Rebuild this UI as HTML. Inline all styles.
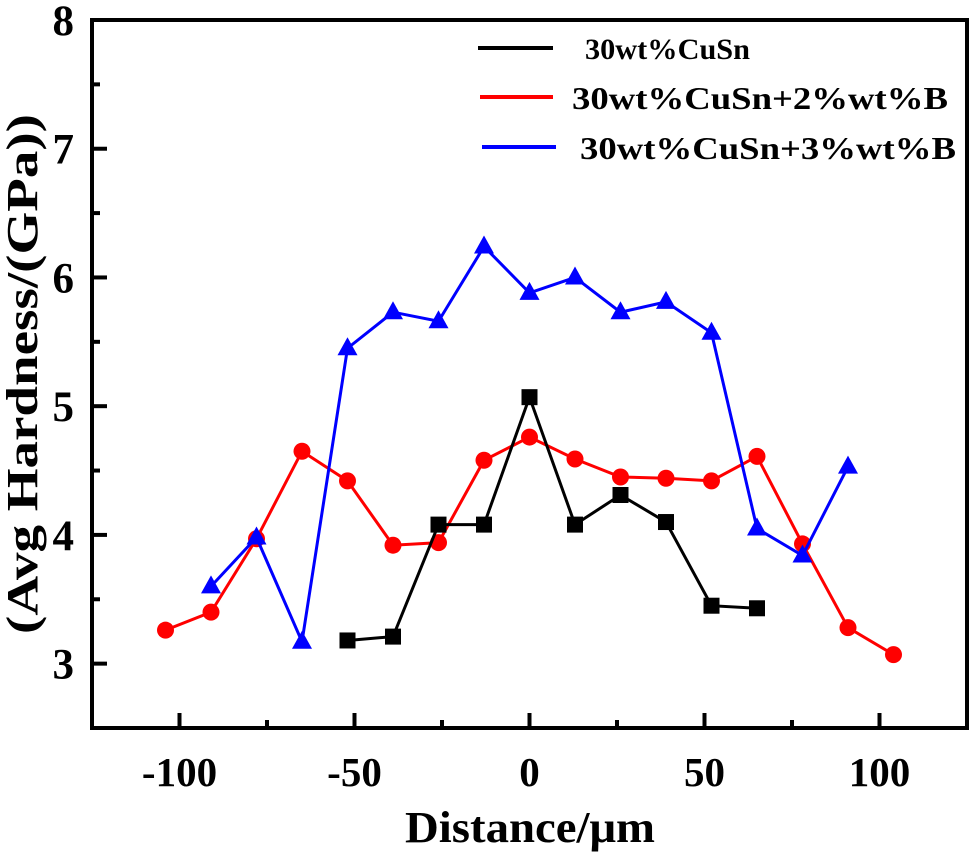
<!DOCTYPE html>
<html><head><meta charset="utf-8"><style>
body{margin:0;background:#fff}
svg text{font-family:"Liberation Serif",serif;font-weight:bold;fill:#000}
</style></head><body>
<svg id="chart" width="974" height="856" viewBox="0 0 974 856" xmlns="http://www.w3.org/2000/svg">
<g id="grid"></g>
<g id="series"></g>
<rect x="92" y="20" width="875" height="708" fill="none" stroke="#000" stroke-width="4"/>
<g id="axes"></g>
<text x="530" y="842" font-size="44" text-anchor="middle" textLength="250" lengthAdjust="spacingAndGlyphs">Distance/μm</text>
<text transform="translate(37,374) rotate(-90)" font-size="44" text-anchor="middle" textLength="520" lengthAdjust="spacingAndGlyphs">(Avg Hardness/(GPa))</text>
<g>
<line x1="478" y1="48" x2="553" y2="48" stroke="#000" stroke-width="4"/>
<text x="585" y="59" font-size="30" textLength="165" lengthAdjust="spacingAndGlyphs">30wt%CuSn</text>
<line x1="480" y1="97" x2="553" y2="97" stroke="#f00" stroke-width="4"/>
<text x="572" y="109" font-size="32" textLength="376" lengthAdjust="spacingAndGlyphs">30wt%CuSn+2%wt%B</text>
<line x1="482" y1="147" x2="556" y2="147" stroke="#00f" stroke-width="4"/>
<text x="580" y="159" font-size="32" textLength="376" lengthAdjust="spacingAndGlyphs">30wt%CuSn+3%wt%B</text>
</g>
</svg>
<script>
const blackX=[-52,-39,-26,-13,0,13,26,39,52,65];
const blackY=[3.18,3.21,4.08,4.08,5.07,4.08,4.31,4.10,3.45,3.43];
const redX=[-104,-91,-78,-65,-52,-39,-26,-13,0,13,26,39,52,65,78,91,104];
const redY=[3.26,3.40,3.97,4.65,4.42,3.92,3.94,4.58,4.76,4.59,4.45,4.44,4.42,4.61,3.93,3.28,3.07];
const blueX=[-91,-78,-65,-52,-39,-26,-13,0,13,26,39,52,65,78,91];
const blueY=[3.60,3.98,3.17,5.45,5.73,5.66,6.24,5.88,6.00,5.73,5.81,5.57,4.05,3.84,4.53];
const xTicks=[-100,-50,0,50,100];
const xMinor=[-75,-25,25,75];
const yTicks=[3,4,5,6,7,8];
const yMinor=[3.5,4.5,5.5,6.5,7.5];
const NS="http://www.w3.org/2000/svg";
const sx=v=>92+(v+125)/250*875;
const sy=v=>728-(v-2.5)/5.5*708;
const axes=document.getElementById('axes'),ser=document.getElementById('series');
function mk(t,a,p){const e=document.createElementNS(NS,t);for(const k in a)e.setAttribute(k,a[k]);p.appendChild(e);return e;}
xTicks.forEach(v=>{
 const l=mk('line',{x1:sx(v),x2:sx(v),y1:728,y2:713,stroke:'#000','stroke-width':4},axes);
 
 
 const t=mk('text',{x:sx(v),y:786,'font-size':41,'text-anchor':'middle'},axes);t.textContent=v;
 
 
});
xMinor.forEach(v=>{const l=mk('line',{x1:sx(v),x2:sx(v),y1:728,y2:720,stroke:'#000','stroke-width':4},axes);
 
 });
yTicks.forEach(v=>{
 const l=mk('line',{x1:92,x2:107,y1:sy(v),y2:sy(v),stroke:'#000','stroke-width':4},axes);
 
 
 const t=mk('text',{x:74,y:sy(v)+15,'font-size':43,'text-anchor':'end'},axes);t.textContent=v;
 
 
});
yMinor.forEach(v=>{const l=mk('line',{x1:92,x2:100,y1:sy(v),y2:sy(v),stroke:'#000','stroke-width':4},axes);
 
 });
function series(xs,ys,color,shape,name){
 const g=mk('g',{},ser);
 
 
 const p=mk('polyline',{points:xs.map((x,i)=>sx(x)+','+sy(ys[i])).join(' '),fill:'none',stroke:color,'stroke-width':3},g);
 
 
 xs.forEach((x,i)=>{
  const cx=sx(x),cy=sy(ys[i]);let m;
  if(shape==='sq')m=mk('rect',{x:cx-8,y:cy-8,width:16,height:16,fill:color},g);
  else if(shape==='c')m=mk('circle',{cx:cx,cy:cy,r:8.5,fill:color},g);
  else m=mk('polygon',{points:`${cx},${cy-11} ${cx-10},${cy+7} ${cx+10},${cy+7}`,fill:color},g);
  
  
 });
}
series(redX,redY,'#f00','c','cusn-2b');
series(blueX,blueY,'#00f','t','cusn-3b');
series(blackX,blackY,'#000','sq','cusn');
</script>
</body></html>
